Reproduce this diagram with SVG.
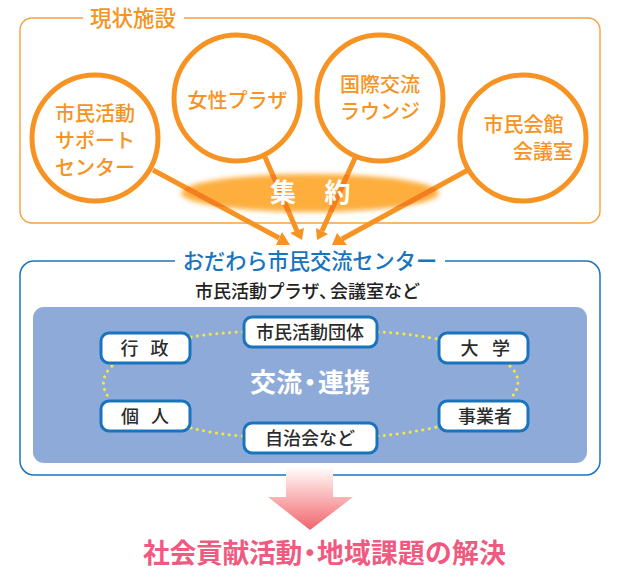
<svg xmlns="http://www.w3.org/2000/svg" width="623" height="582" viewBox="0 0 623 582">
<style>
text{font-family:"Noto Sans CJK JP","Noto Sans CJK SC",sans-serif;text-anchor:middle}
.c circle{fill:#fff;stroke:#f69322;stroke-width:5}
.c text{fill:#f69322;font-size:20px;font-weight:500}
.n rect{fill:#fff;stroke:#1a74bd;stroke-width:3}
.n text{fill:#2b2b2b;font-size:18px;font-weight:500}
.dot{fill:none;stroke:#f4e645;stroke-width:3;stroke-linecap:round;stroke-dasharray:.1 6.4}
.ar{stroke:#f69322;stroke-width:5;fill:none}
.ah{fill:#f69322}
.s{text-anchor:start}
</style>
<defs>
<filter id="bl" x="-10%" y="-30%" width="120%" height="160%"><feGaussianBlur stdDeviation="2.5"/></filter>
<linearGradient id="pk" x1="0" y1="0" x2="0" y2="1"><stop offset="0" stop-color="#fff"/><stop offset=".3" stop-color="#fcd0cf"/><stop offset="1" stop-color="#f0646c"/></linearGradient>
<clipPath id="el"><ellipse cx="310" cy="193" rx="129" ry="19"/></clipPath>
</defs>
<rect width="623" height="582" fill="#fff"/>
<path d="M83 18H32A12 12 0 0 0 20 30V211A12 12 0 0 0 32 223H588A12 12 0 0 0 600 211V30A12 12 0 0 0 588 18H184" fill="none" stroke="#f7a040" stroke-width="1.4"/>
<text x="133" y="26" style="font-size:21.5px;font-weight:500" fill="#f69322">現状施設</text>
<ellipse cx="310" cy="193" rx="129" ry="19" fill="#fdae3c" filter="url(#bl)"/>
<g id="connectors">
<path class="ar" d="M153 170L279 238M265 157L297 231M355 158L322 231M468 170L342 239"/>
<path class="ar" style="stroke:#f47d20" clip-path="url(#el)" d="M153 170L279 238M265 157L297 231M355 158L322 231M468 170L342 239"/>
<path class="ah" d="M290 245L276 245L282 232ZM302 240L290 233L304 228ZM317 240L316 228L328 234ZM332 245L337 233L347 245Z"/>
</g>
<text x="283" y="202" style="font-size:26px;font-weight:700" fill="#fff">集</text>
<text x="337.500" y="202" style="font-size:26px;font-weight:700" fill="#fff">約</text>
<g id="node-support" class="c"><circle cx="95" cy="138" r="63"/><text x="95" y="120.500">市民活動</text><text x="95" y="147.500">サポート</text><text x="95" y="175">センター</text></g>
<g id="node-josei" class="c"><circle cx="237" cy="98" r="63"/><text x="237.500" y="107.500">女性プラザ</text></g>
<g id="node-kokusai" class="c"><circle cx="380" cy="98" r="63"/><text x="380" y="91.500">国際交流</text><text x="380" y="119">ラウンジ</text></g>
<g id="node-kaikan" class="c"><circle cx="523" cy="138" r="63"/><text x="523.500" y="131.500">市民会館</text><text x="543" y="158.500">会議室</text></g>
<path d="M175 261H34A14 14 0 0 0 20 275V461A14 14 0 0 0 34 475H586A14 14 0 0 0 600 461V275A14 14 0 0 0 586 261H445" fill="none" stroke="#1a74bd" stroke-width="1.5"/>
<text x="310" y="269" style="font-size:21.200px;font-weight:500" fill="#1a74bd">おだわら市民交流センター</text>
<text class="s" x="195 213 231 249 266.500 284 301.500 319 330 348 366 384 402" y="297.500" style="font-size:18px;font-weight:500" fill="#222">市民活動プラザ、会議室など</text>
<rect x="33" y="307" width="554" height="156" rx="11" fill="#8eaad8"/>
<g id="dots">
<path class="dot" d="M191 337Q215 333 243 332M378 332Q405 333 437 339M191 428Q215 434 243 436M378 436Q405 434 437 427M112 366Q96 382 110 399M510 366Q526 382 510 399"/>
</g>
<text class="s" x="250 276 297 318 344" y="391.500" style="font-size:26px;font-weight:700" fill="#fff">交流・連携</text>
<g id="node-gyosei" class="n"><rect x="101" y="333" width="89" height="30" rx="8"/><text x="129.500 159.500" y="355">行政</text></g>
<g id="node-kojin" class="n"><rect x="101" y="401" width="89" height="30" rx="8"/><text x="130 160" y="423">個人</text></g>
<g id="node-daigaku" class="n"><rect x="439" y="333" width="89" height="30" rx="8"/><text x="469.500 501" y="355">大学</text></g>
<g id="node-jigyo" class="n"><rect x="439" y="401" width="89" height="30" rx="8"/><text x="485" y="423">事業者</text></g>
<g id="node-dantai" class="n"><rect x="244" y="317" width="133" height="30" rx="8"/><text x="310" y="339">市民活動団体</text></g>
<g id="node-jichi" class="n"><rect x="244" y="423" width="133" height="30" rx="8"/><text x="310" y="445">自治会など</text></g>
<path d="M286 467H333V497H353L310 530L268 497H286Z" fill="url(#pk)"/>
<text class="s" x="143 169.500 196 222.500 249 275.500 296.500 317 344 371 398 425 452 479" y="562.500" style="font-size:26.800px;font-weight:700" fill="#f05a80">社会貢献活動・地域課題の解決</text>
</svg>
